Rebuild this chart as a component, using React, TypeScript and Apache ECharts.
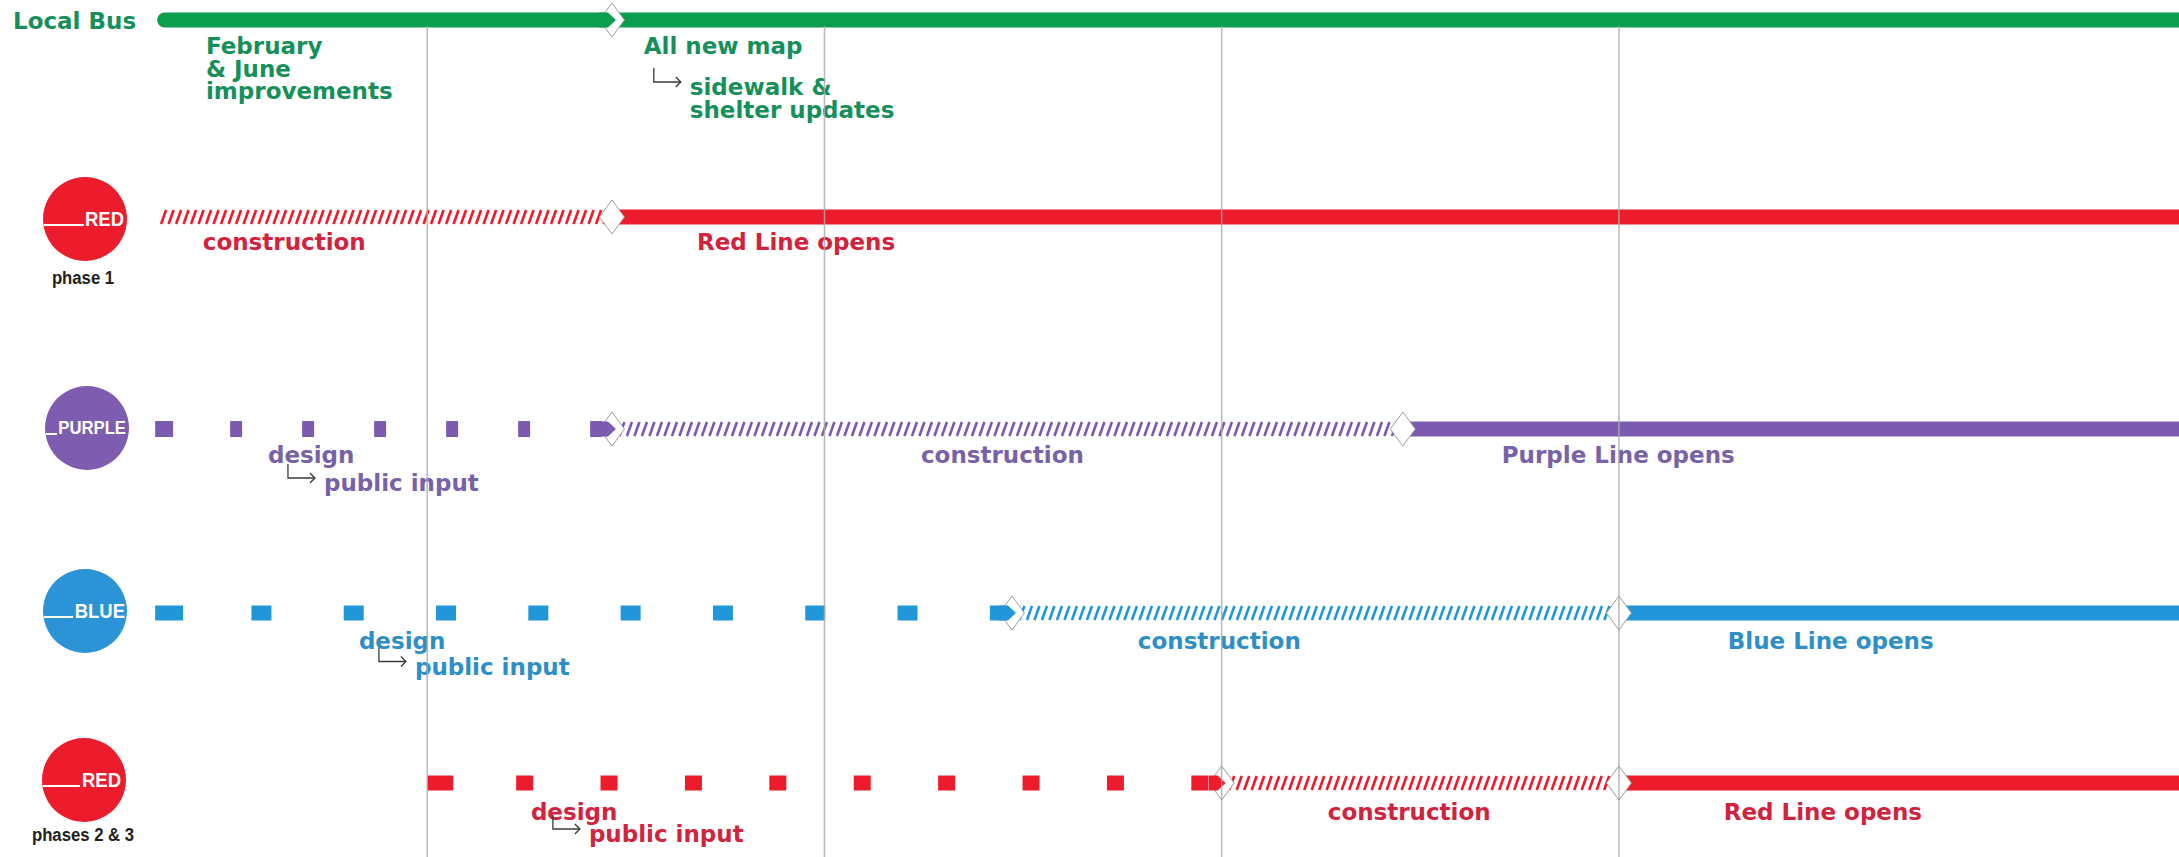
import React, { useEffect, useRef } from "react";
import * as echarts from "echarts";

// ---------- data ----------
const AXIS_MIN = 2017;
const AXIS_MAX = 2022.41;

const laneTitles = ["Local Bus", "RED", "PURPLE", "BLUE", "RED"];
const laneCaptions = ["", "phase 1", "", "", "phases 2 & 3"];

const SOLID = 0; // in service
const HATCH = 1; // construction
const DESIGN = 2; // design / public input

// [start, end, phase]
const localBusPhases = [
  [2017.32, 2018.465, SOLID],
  [2018.465, AXIS_MAX, SOLID],
];
const redPhase1Phases = [
  [2017.33, 2018.465, HATCH],
  [2018.465, AXIS_MAX, SOLID],
];
const purplePhases = [
  [2017.315, 2018.465, DESIGN],
  [2018.465, 2020.456, HATCH],
  [2020.456, AXIS_MAX, SOLID],
];
const bluePhases = [
  [2017.315, 2019.472, DESIGN],
  [2019.472, 2021.0, HATCH],
  [2021.0, AXIS_MAX, SOLID],
];
const redPhase23Phases = [
  [2018.0, 2020.0, DESIGN],
  [2020.0, 2021.0, HATCH],
  [2021.0, AXIS_MAX, SOLID],
];

const yearMarks = [2018, 2019, 2020, 2021];

// [x, level, text, hasArrow]
const localBusNotes = [
  [2017.443, 0, "February\n& June\nimprovements", false],
  [2018.545, 0, "All new map", false],
  [2018.661, 1, "sidewalk &\nshelter updates", true],
];
const redPhase1Notes = [
  [2017.435, 0, "construction", false],
  [2018.679, 0, "Red Line opens", false],
];
const purpleNotes = [
  [2017.599, 0, "design", false],
  [2017.74, 1, "public input", true],
  [2019.243, 0, "construction", false],
  [2020.705, 0, "Purple Line opens", false],
];
const blueNotes = [
  [2017.828, 0, "design", false],
  [2017.969, 1, "public input", true],
  [2019.789, 0, "construction", false],
  [2021.274, 0, "Blue Line opens", false],
];
const redPhase23Notes = [
  [2018.261, 0, "design", false],
  [2018.407, 1, "public input", true],
  [2020.267, 0, "construction", false],
  [2021.264, 0, "Red Line opens", false],
];

// ---------- layout / style ----------
const W = 2179;
const H = 857;
const GRID_LEFT = 30;
const BAR_H = 15;
const HATCH_STEP = 7.5;
const FONT = 'bold 23px "DejaVu Sans", sans-serif';
const CAPTION_FONT = 'bold 19px "Liberation Sans", sans-serif';
const NARROW = 0.88;

const LANES: any[] = [
  { phases: localBusPhases, notes: localBusNotes, y: 20, bar: "#0A9E4E", text: "#16905A", dy: [26, 67], lh: [22.5, 22.5], roundStart: true, design: null },
  { phases: redPhase1Phases, notes: redPhase1Notes, y: 217, bar: "#EC1C2D", text: "#D1233D", dy: [24.5, 54], lh: [22.5, 22.5], roundStart: false, design: null },
  { phases: purplePhases, notes: purpleNotes, y: 429, bar: "#7B5BAF", text: "#7762A8", dy: [25.5, 54], lh: [22.5, 22.5], roundStart: false, design: { period: 72, w: 12, first: 18, h: 16 } },
  { phases: bluePhases, notes: blueNotes, y: 613, bar: "#2196D8", text: "#2E8EC6", dy: [27.5, 53.5], lh: [22.5, 22.5], roundStart: false, design: { period: 92.3, w: 20, first: 28, h: 15 } },
  { phases: redPhase23Phases, notes: redPhase23Notes, y: 783, bar: "#EC1C2D", text: "#D1233D", dy: [28.5, 51], lh: [22.5, 22.5], roundStart: false, design: { period: 84.4, w: 17, first: 26, h: 15 } },
];

const ICONS: any[] = [
  null,
  { cx: 85, cy: 219, r: 42, color: "#EC1C2D", textRight: 124, fontSize: 21, lineEnd: 84, captionY: 278 },
  { cx: 87, cy: 428, r: 42, color: "#7E5DB0", textRight: 126, fontSize: 19, lineEnd: 57, captionY: 0 },
  { cx: 85, cy: 611, r: 42, color: "#2C94D6", textRight: 125, fontSize: 21, lineEnd: 73, captionY: 0 },
  { cx: 84, cy: 780, r: 42, color: "#EC1C2D", textRight: 121, fontSize: 21, lineEnd: 80, captionY: 835 },
];

function renderPhase(lane: any, params: any, api: any) {
  const a = api.coord([api.value(0), 0]);
  const b = api.coord([api.value(1), 0]);
  const x0 = a[0];
  const x1 = b[0];
  const y = a[1];
  const kind = api.value(2);
  const h = BAR_H;
  if (kind === SOLID) {
    const r = lane.roundStart && params.dataIndex === 0 ? [h / 2, 0, 0, h / 2] : 0;
    return {
      type: "rect",
      shape: { x: x0, y: y - h / 2, width: x1 - x0, height: h, r },
      style: { fill: lane.bar },
    };
  }
  if (kind === HATCH) {
    const children: any[] = [];
    for (let x = x0; x < x1 - 4; x += HATCH_STEP) {
      children.push({
        type: "line",
        shape: { x1: x, y1: y + h / 2 - 0.5, x2: x + 5, y2: y - h / 2 + 0.5 },
        style: { stroke: lane.bar, lineWidth: 2.6 },
      });
    }
    return { type: "group", children };
  }
  const d = lane.design;
  const children: any[] = [
    { type: "rect", shape: { x: x0, y: y - d.h / 2, width: d.first, height: d.h }, style: { fill: lane.bar } },
  ];
  for (let c = x0 + d.first / 2 + d.period; c + d.w / 2 < x1 - 2; c += d.period) {
    children.push({
      type: "rect",
      shape: { x: c - d.w / 2, y: y - d.h / 2, width: d.w, height: d.h },
      style: { fill: lane.bar },
    });
  }
  return { type: "group", children };
}

function renderMilestone(lane: any, params: any, api: any) {
  const p = api.coord([api.value(0), 0]);
  const cx = p[0];
  const cy = p[1];
  const children: any[] = [
    {
      type: "polygon",
      shape: { points: [[cx - 12.5, cy], [cx, cy - 17], [cx + 12.5, cy], [cx, cy + 17]] },
      style: { fill: "#ffffff", stroke: "#9c9c9c", lineWidth: 1 },
    },
  ];
  if (api.value(2) !== HATCH) {
    children.push({
      type: "polygon",
      shape: {
        points: [[cx - 13, cy - 7.5], [cx - 4, cy - 7.5], [cx + 4, cy], [cx - 4, cy + 7.5], [cx - 13, cy + 7.5]],
      },
      style: { fill: lane.bar },
    });
  }
  return { type: "group", children };
}

function renderNote(lane: any, params: any, api: any) {
  const n = lane.notes[params.dataIndex];
  const p = api.coord([api.value(0), 0]);
  const level = n[1];
  const Y = p[1] + lane.dy[level];
  const multi = String(n[2]).indexOf("\n") >= 0;
  const lh = multi ? lane.lh[level] : 24;
  const children: any[] = [
    {
      type: "text",
      x: p[0],
      y: Y - lh / 2,
      style: {
        text: n[2],
        fill: lane.text,
        font: FONT,
        align: "left",
        verticalAlign: "top",
        textAlign: "left",
        textVerticalAlign: "top",
        lineHeight: lh,
      },
    },
  ];
  if (n[3]) {
    const sx = p[0] - 36;
    const ex = p[0] - 9;
    children.push({
      type: "polyline",
      shape: { points: [[sx, Y - 19], [sx, Y - 5], [ex, Y - 5]] },
      style: { stroke: "#3a3a3a", lineWidth: 1.3, fill: null },
    });
    children.push({
      type: "polyline",
      shape: { points: [[ex - 5, Y - 10], [ex, Y - 5], [ex - 5, Y]] },
      style: { stroke: "#3a3a3a", lineWidth: 1.3, fill: null },
    });
  }
  return { type: "group", children };
}

function buildOption() {
  const grids: any[] = LANES.map((l) => ({ left: GRID_LEFT, right: 0, top: l.y - 20, height: 40 }));
  grids.push({ left: GRID_LEFT, right: 0, top: 26, bottom: 0 });
  const gi = grids.length - 1;

  const xAxis = grids.map((_, i) => ({ type: "value", gridIndex: i, min: AXIS_MIN, max: AXIS_MAX, show: false }));
  const yAxis = grids.map((_, i) =>
    i < LANES.length
      ? { type: "category", gridIndex: i, data: [laneTitles[i]], show: false }
      : { type: "value", gridIndex: i, min: 0, max: 1, show: false }
  );

  const series: any[] = [];
  LANES.forEach((lane, i) => {
    series.push({
      type: "custom",
      xAxisIndex: i,
      yAxisIndex: i,
      z: 2,
      silent: true,
      clip: false,
      data: lane.phases.map((p: any) => [p[0], p[1], p[2], 0]),
      encode: { x: [0, 1], y: 3 },
      renderItem: (params: any, api: any) => renderPhase(lane, params, api),
    });
    series.push({
      type: "custom",
      xAxisIndex: i,
      yAxisIndex: i,
      z: 3,
      silent: true,
      clip: false,
      data: lane.phases.slice(1).map((p: any, k: number) => [p[0], 0, lane.phases[k][2]]),
      encode: { x: 0, y: 1 },
      renderItem: (params: any, api: any) => renderMilestone(lane, params, api),
    });
    series.push({
      type: "custom",
      xAxisIndex: i,
      yAxisIndex: i,
      z: 4,
      silent: true,
      clip: false,
      data: lane.notes.map((n: any) => [n[0], 0]),
      encode: { x: 0, y: 1 },
      renderItem: (params: any, api: any) => renderNote(lane, params, api),
    });
  });
  series.push({
    type: "custom",
    xAxisIndex: gi,
    yAxisIndex: gi,
    z: 10,
    silent: true,
    clip: false,
    data: yearMarks.map((v) => [v, 0]),
    encode: { x: 0, y: 1 },
    renderItem: (params: any, api: any) => {
      const p = api.coord([api.value(0), 0]);
      const cs = params.coordSys;
      return {
        type: "line",
        shape: { x1: p[0], y1: cs.y, x2: p[0], y2: cs.y + cs.height },
        style: { stroke: "#ababab", lineWidth: 1.5, opacity: 0.85 },
      };
    },
  });

  const graphic: any[] = [
    {
      type: "text",
      x: 13,
      y: 20.5,
      style: {
        text: laneTitles[0],
        fill: LANES[0].text,
        font: FONT,
        align: "left",
        verticalAlign: "middle",
        textAlign: "left",
        textVerticalAlign: "middle",
      },
    },
  ];
  ICONS.forEach((ic, i) => {
    if (!ic) return;
    const ly = ic.cy + 6;
    graphic.push({ type: "circle", shape: { cx: ic.cx, cy: ic.cy, r: ic.r }, style: { fill: ic.color } });
    graphic.push({
      type: "line",
      shape: { x1: ic.cx - Math.sqrt(ic.r * ic.r - 36) + 0.5, y1: ly, x2: ic.lineEnd, y2: ly },
      style: { stroke: "#ffffff", lineWidth: 2 },
    });
    graphic.push({
      type: "text",
      x: ic.textRight,
      y: ic.cy,
      scaleX: NARROW,
      style: {
        text: laneTitles[i],
        fill: "#ffffff",
        font: `bold ${ic.fontSize}px "Liberation Sans", sans-serif`,
        align: "right",
        verticalAlign: "middle",
        textAlign: "right",
        textVerticalAlign: "middle",
      },
    });
    if (laneCaptions[i]) {
      graphic.push({
        type: "text",
        x: 83,
        y: ic.captionY,
        scaleX: NARROW,
        style: {
          text: laneCaptions[i],
          fill: "#231f20",
          font: CAPTION_FONT,
          align: "center",
          verticalAlign: "middle",
          textAlign: "center",
          textVerticalAlign: "middle",
        },
      });
    }
  });

  return {
    animation: false,
    backgroundColor: "#ffffff",
    grid: grids,
    xAxis,
    yAxis,
    series,
    graphic,
  };
}

export default function App() {
  const ref = useRef<HTMLDivElement>(null);
  useEffect(() => {
    document.body.style.margin = "0";
    if (!ref.current) return;
    const chart = echarts.init(ref.current, null, { renderer: "svg", width: W, height: H });
    chart.setOption(buildOption() as any);
    return () => chart.dispose();
  }, []);
  return (
    <div
      ref={ref}
      style={{ position: "fixed", left: 0, top: 0, width: W, height: H, background: "#ffffff" }}
    />
  );
}
